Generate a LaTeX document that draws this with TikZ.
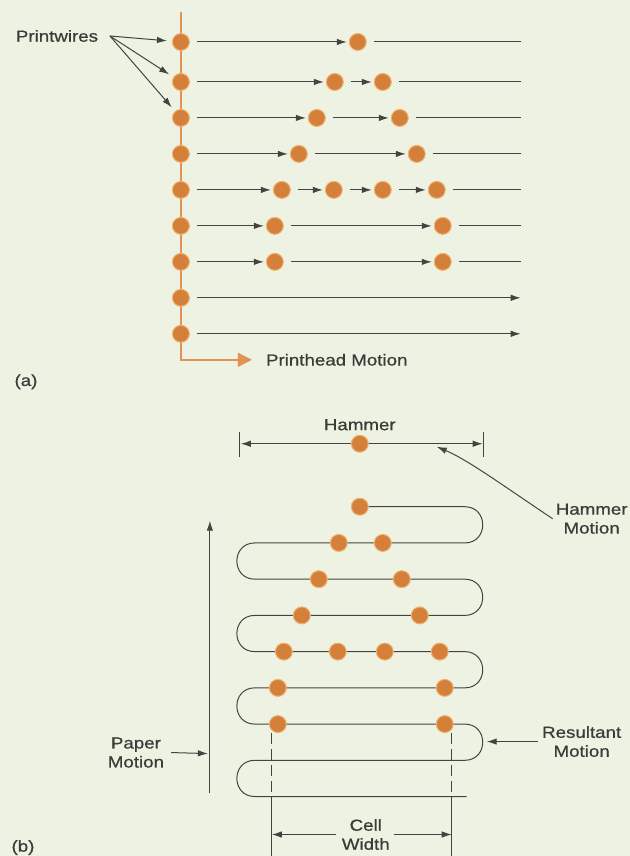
\documentclass[tikz,border=0pt]{standalone}
\usepackage{fontspec}
\setmainfont[FakeStretch=1.17,FakeBold=0.7]{Liberation Sans}
\usetikzlibrary{arrows.meta}
\definecolor{bg}{RGB}{238,242,226}
\definecolor{dotc}{RGB}{212,128,58}
\definecolor{halo}{RGB}{238,180,116}
\definecolor{ln}{RGB}{66,68,66}
\definecolor{orl}{RGB}{226,146,82}
\definecolor{txt}{RGB}{58,60,58}
\begin{document}
\begin{tikzpicture}[x=1pt,y=-1pt,
  dot/.style={circle,fill=dotc,draw=halo,line width=1pt,minimum size=17pt,inner sep=0pt},
  wire/.style={draw=ln,line width=1pt},
  tipped/.style={-{Latex[length=10pt,width=6.5pt]}},
  seg/.style={wire,shorten <=7.5pt},
  aseg/.style={seg,tipped,shorten >=2pt},
  lbl/.style={text=txt,font=\fontsize{16}{19}\selectfont,align=center,inner sep=0pt},
]
\fill[bg] (0,0) rectangle (630,856);

% ---------------- part (a) ----------------
\coordinate (axtop) at (181,12);
\node[lbl,anchor=west] (pm) at (266,360) {Printhead Motion};
\draw[orl,line width=1.7pt,-{Triangle[length=14pt,width=14pt]}] (axtop) |- ([xshift=-14pt]pm.west);

\node[lbl] (pw) at (57,36) {Printwires};
\coordinate (pwt) at (110,36);
\node[lbl] (la) at (26,382) {(a)};

\foreach \r/\y in {1/42,2/82,3/118,4/154,5/190,6/226,7/262,8/298,9/334}{
  \node[dot] (a\r) at (181,\y) {};
  \coordinate (e\r) at (521,\y);
}
% row 1
\node[dot] (a1b) at (358,42) {};
\draw[aseg] (a1) -- (a1b); \draw[seg] (a1b) -- (e1);
% row 2
\node[dot] (a2b) at (335,82) {}; \node[dot] (a2c) at (383,82) {};
\draw[aseg] (a2) -- (a2b); \draw[aseg] (a2b) -- (a2c); \draw[seg] (a2c) -- (e2);
% row 3
\node[dot] (a3b) at (317,118) {}; \node[dot] (a3c) at (400,118) {};
\draw[aseg] (a3) -- (a3b); \draw[aseg] (a3b) -- (a3c); \draw[seg] (a3c) -- (e3);
% row 4
\node[dot] (a4b) at (299,154) {}; \node[dot] (a4c) at (417,154) {};
\draw[aseg] (a4) -- (a4b); \draw[aseg] (a4b) -- (a4c); \draw[seg] (a4c) -- (e4);
% row 5
\node[dot] (a5b) at (282,190) {}; \node[dot] (a5c) at (334,190) {};
\node[dot] (a5d) at (383,190) {}; \node[dot] (a5e) at (437,190) {};
\draw[aseg] (a5) -- (a5b); \draw[aseg] (a5b) -- (a5c); \draw[aseg] (a5c) -- (a5d);
\draw[aseg] (a5d) -- (a5e); \draw[seg] (a5e) -- (e5);
% row 6
\node[dot] (a6b) at (275,226) {}; \node[dot] (a6c) at (443,226) {};
\draw[aseg] (a6) -- (a6b); \draw[aseg] (a6b) -- (a6c); \draw[seg] (a6c) -- (e6);
% row 7
\node[dot] (a7b) at (275,262) {}; \node[dot] (a7c) at (443,262) {};
\draw[aseg] (a7) -- (a7b); \draw[aseg] (a7b) -- (a7c); \draw[seg] (a7c) -- (e7);
% rows 8, 9
\draw[seg,tipped] (a8) -- (e8);
\draw[seg,tipped] (a9) -- (e9);
% printwires pointers
\draw[wire,tipped,shorten >=5pt] (pwt) -- (a1);
\draw[wire,tipped,shorten >=5pt] (pwt) -- (a2);
\draw[wire,tipped,shorten >=5pt] (pwt) -- (a3);

% ---------------- part (b) ----------------
\node[lbl] (ham) at (360,425) {Hammer};
\coordinate (hl) at (241,444); \coordinate (hr) at (483,444);
\draw[wire] (240,432) -- (240,457);
\draw[wire] (484,432) -- (484,457);
\draw[wire,{Latex[length=10pt,width=6.5pt]}-{Latex[length=10pt,width=6.5pt]}] (hl) -- (hr);
\node[dot] (hd) at (360,444) {};
\node[lbl] (hm) at (592,519) {Hammer\\Motion};
\coordinate (hmt) at (437,447);
\draw[wire,tipped] ([xshift=-3pt]hm.west) .. controls (505,487) and (468,460) .. (hmt);

% serpentine (resultant motion path)
\draw[wire]
  (360,507) -- (465,507) .. controls (489,507) and (489,543.25) .. (465,543.25)
  -- (255,543.25) .. controls (231,543.25) and (231,579.5) .. (255,579.5)
  -- (465,579.5) .. controls (489,579.5) and (489,615.75) .. (465,615.75)
  -- (255,615.75) .. controls (231,615.75) and (231,652) .. (255,652)
  -- (465,652) .. controls (489,652) and (489,688.25) .. (465,688.25)
  -- (255,688.25) .. controls (231,688.25) and (231,724.5) .. (255,724.5)
  -- (465,724.5) .. controls (489,724.5) and (489,760.75) .. (465,760.75)
  -- (255,760.75) .. controls (231,760.75) and (231,797) .. (255,797)
  -- (467,797);

% dots of the printed character
\node[dot] (b1) at (360,507) {};
\node[dot] (b2a) at (339,543.25) {}; \node[dot] (b2b) at (383,543.25) {};
\node[dot] (b3a) at (319,579.5) {}; \node[dot] (b3b) at (402,579.5) {};
\node[dot] (b4a) at (302,615.75) {}; \node[dot] (b4b) at (420,615.75) {};
\node[dot] (b5a) at (284,652) {}; \node[dot] (b5b) at (338,652) {};
\node[dot] (b5c) at (385,652) {}; \node[dot] (b5d) at (440,652) {};
\node[dot] (b6a) at (278,688.25) {}; \node[dot] (b6b) at (445,688.25) {};
\node[dot] (b7a) at (278,724.5) {}; \node[dot] (b7b) at (445,724.5) {};

% paper motion
\coordinate (pmb) at (210,793); \coordinate (pmt) at (210,521);
\draw[wire,tipped] (pmb) -- (pmt);
\node[lbl] (ppm) at (136,753) {Paper\\Motion};
\coordinate (pmm) at (208,754);
\draw[wire,tipped] ([xshift=7pt]ppm.east) -- (pmm);

% resultant motion
\node[lbl] (rm) at (582,742) {Resultant\\Motion};
\coordinate (rmt) at (487,742);
\draw[wire,tipped] ([xshift=-4pt]rm.west) -- (rmt);

% cell width
\draw[wire,dash pattern=on 11pt off 5pt] (272,733) -- (272,800);
\draw[wire] (272,800) -- (272,856);
\draw[wire,dash pattern=on 11pt off 5pt] (452,733) -- (452,800);
\draw[wire] (452,800) -- (452,856);
\node[lbl] (cw) at (366,835) {Cell\\Width};
\coordinate (cwl) at (272,835); \coordinate (cwr) at (452,835);
\draw[wire,tipped] ([xshift=-6pt]cw.west) -- (cwl);
\draw[wire,tipped] ([xshift=4pt]cw.east) -- (cwr);

\node[lbl] (lb) at (23,848) {(b)};
\end{tikzpicture}
\end{document}
